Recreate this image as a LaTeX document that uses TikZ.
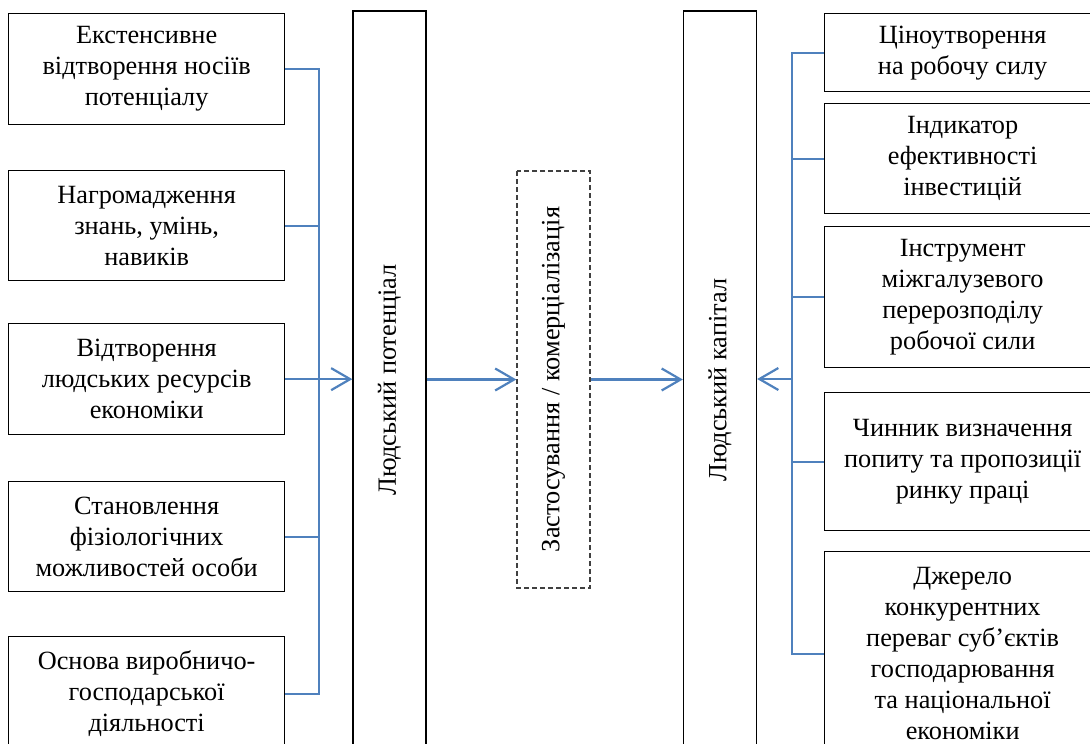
\documentclass[tikz,border=0pt]{standalone}
\usepackage{fontspec}
\setmainfont{Liberation Serif}
\usetikzlibrary{arrows.meta}
\definecolor{linkblue}{HTML}{4F81BD}
\definecolor{dashgray}{HTML}{404040}
\begin{document}
\begin{tikzpicture}[x=1pt,y=-1pt,
  txt/.style={font=\fontsize{26.3}{31}\selectfont, align=center, inner sep=0pt},
  box/.style={txt, draw=black, line width=1.3pt, anchor=north west, minimum width=276pt},
  tallbox/.style={txt, draw=black, line width=1.3pt, rotate=90, minimum height=73pt},
  dashbox/.style={txt, draw=dashgray, line width=1.3pt, dash pattern=on 5pt off 3pt, rotate=90, minimum height=73pt},
  link/.style={draw=linkblue, line width=2.2pt},
  arr/.style={-{Straight Barb[length=19pt,width=22pt]}}
]
\useasboundingbox (0,0) rectangle (1090,744);

% left column: sources of human potential
\node[box, minimum height=111pt] (l1) at (8,13) {Екстенсивне\\відтворення носіїв\\потенціалу};
\node[box, minimum height=110pt] (l2) at (8,170) {Нагромадження\\знань, умінь,\\навиків};
\node[box, minimum height=111pt] (l3) at (8,323) {Відтворення\\людських ресурсів\\економіки};
\node[box, minimum height=110pt] (l4) at (8,481) {Становлення\\фізіологічних\\можливостей особи};
\node[box, minimum height=114pt] (l5) at (8,636) {Основа виробничо-\\господарської\\діяльності};

% central vertical boxes
\node[tallbox, minimum width=738pt] (lp) at (389.5,380) {Людський потенціал};
\node[dashbox, minimum width=417pt] (mid) at (553.5,379.5) {Застосування / комерціалізація};
\node[tallbox, minimum width=738pt] (lc) at (720,380) {Людський капітал};

% right column: roles of human capital
\node[box, minimum height=78pt] (r1) at (824,13) {Ціноутворення\\на робочу силу};
\node[box, minimum height=110pt] (r2) at (824,103) {Індикатор\\ефективності\\інвестицій};
\node[box, minimum height=141pt] (r3) at (824,226) {Інструмент\\міжгалузевого\\перерозподілу\\робочої сили};
\node[box, minimum height=138pt] (r4) at (824,392) {Чинник визначення\\попиту та пропозиції\\ринку праці};
\node[box, minimum height=204pt] (r5) at (824,551) {Джерело\\конкурентних\\переваг суб’єктів\\господарювання\\та національної\\економіки};

% bus lines
\coordinate (busL) at (319,379);
\coordinate (busR) at (792,379);

\draw[link] (l1.east) -| (busL) |- (l5.east);
\draw[link] (l2.east) -- (l2.east -| busL);
\draw[link] (l4.east) -- (l4.east -| busL);
\draw[link, arr] (l3.east) -- (l3.east -| lp.north);

\draw[link, arr] (mid.north -| lp.south) -- (mid.north);
\draw[link, arr] (mid.south) -- (mid.south -| lc.north);

\draw[link] (r1.west) -| (busR) |- (r5.west);
\draw[link] (r2.west) -- (r2.west -| busR);
\draw[link] (r3.west) -- (r3.west -| busR);
\draw[link] (r4.west) -- (r4.west -| busR);
\draw[link, arr] (busR) -- (busR -| lc.south);
\end{tikzpicture}
\end{document}
